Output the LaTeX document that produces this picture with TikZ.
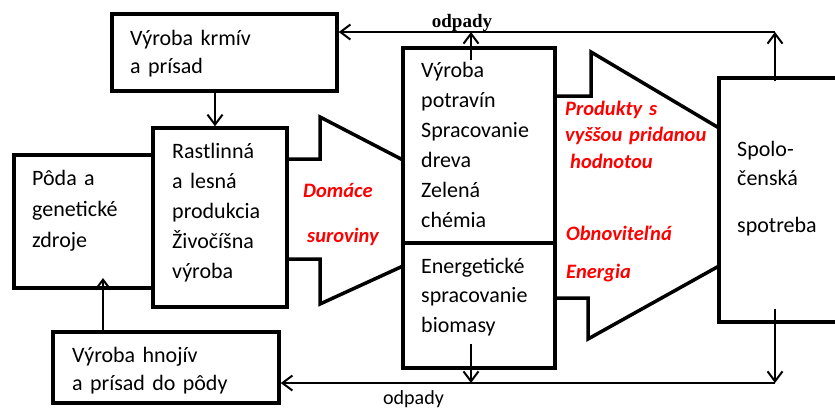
\documentclass[tikz,border=0pt]{standalone}
\usepackage{fontspec}
\setmainfont{Carlito}
\newfontfamily\serifbold{Liberation Serif}
\usetikzlibrary{arrows.meta}
\begin{document}
\begin{tikzpicture}[x=1pt,y=-1pt,
  box/.style={draw, line width=3.5pt, rectangle, inner sep=0pt},
  arr/.style={line width=2pt, -{Straight Barb[length=10pt,width=15pt]}},
  bigarrow/.style={line width=3.5pt, line join=miter},
  txt/.style={anchor=base west, inner sep=0pt, align=left, text width=#1},
  redtxt/.style={anchor=base west, inner sep=0pt, align=left, text width=#1, text=red, font=\bfseries\itshape\fontsize{20.5}{26.5}\selectfont},
]
\useasboundingbox (0,0) rectangle (835,408);
\clip (0,0) rectangle (835,408);

% boxes
\node[box, minimum width=225pt, minimum height=77pt] (krmiv) at (224.5,52.5) {};
\node[box, minimum width=134pt, minimum height=179pt] (rast) at (220,217.5) {};
\node[box, minimum width=139pt, minimum height=133pt] (poda) at (83.5,221.5) {};
\node[box, minimum width=226pt, minimum height=71pt] (hnojiv) at (166,367.5) {};
\node[box, minimum width=152pt, minimum height=195pt] (potr) at (479,145.5) {};
\node[box, minimum width=152pt, minimum height=125pt] (ener) at (479,305.5) {};
\node[box, minimum width=131pt, minimum height=244pt] (spol) at (784.5,200) {};

% big arrow shapes
\draw[bigarrow] (287,159) -- (320,159) -- (320,117) -- (403,160);
\draw[bigarrow] (287,259) -- (320,259) -- (320,304) -- (403,266);
\draw[bigarrow] (555,96) -- (591,96) -- (591,52) -- (719,128);
\draw[bigarrow] (555,298) -- (588,298) -- (588,339) -- (719,266);

% connector coordinates
\coordinate (xa) at (215,0);
\coordinate (xh) at (103,278);
\coordinate (ltop) at (775,32);
\coordinate (lbot) at (775,383);
\coordinate (optop) at (471,32);
\coordinate (opbot) at (471,383);

% connectors
\draw[arr] (krmiv.south -| xa) -- (rast.north -| xa);
\draw[arr] (hnojiv.north -| xh) -- (xh);
\draw[arr] (ltop) -- (krmiv.east |- ltop);
\draw[arr] (lbot) -- (hnojiv.east |- lbot);
\draw[arr] (potr.north -| optop) ++(0,14) -- (optop);
\draw[arr] (ener.south -| opbot) ++(0,-26) -- (opbot);
\draw[arr] (spol.north -| ltop) ++(0,5) -- (ltop);
\draw[arr] (spol.south -| lbot) ++(0,-15) -- (lbot);

% texts
\node[txt=200pt, font=\fontsize{22}{28.5}\selectfont] (tkrmiv) at (130,45) {Výroba krmív\\a prísad};
\node[txt=120pt, font=\fontsize{22}{30}\selectfont] (trast) at (172,158) {Rastlinná\\a lesná\\produkcia\\Živočíšna\\výroba};
\node[txt=115pt, font=\fontsize{22}{31}\selectfont] (tpoda) at (32,185) {Pôda a\\genetické\\zdroje};
\node[txt=200pt, font=\fontsize{22}{28}\selectfont] (thnojiv) at (72,362) {Výroba hnojív\\a prísad do pôdy};
\node[txt=130pt, font=\fontsize{22}{30}\selectfont] (tpotr) at (421,77) {Výroba\\potravín\\Spracovanie\\dreva\\Zelená\\chémia};
\node[txt=130pt, font=\fontsize{22}{29.5}\selectfont] (tener) at (421,273) {Energetické\\spracovanie\\biomasy};
\node[txt=95pt, font=\fontsize{22}{29}\selectfont] (tspol) at (737,156) {Spolo-\\čenská};
\node[txt=95pt, font=\fontsize{22}{29}\selectfont] (tspot) at (737,232) {spotreba};

\node[redtxt=80pt] (tdom) at (303,197) {Domáce};
\node[redtxt=80pt] (tsur) at (307,242) {suroviny};
\node[redtxt=150pt] (tprod) at (565,115) {Produkty s\\vyššou pridanou\\\hspace*{5pt}hodnotou};
\node[redtxt=150pt] (tobn) at (566,240) {Obnoviteľná};
\node[redtxt=150pt] (tenerg) at (566,278) {Energia};

\node[anchor=base, inner sep=0pt, font=\serifbold\bfseries\fontsize{19}{22}\selectfont] (odtop) at (462,27) {odpady};
\node[anchor=base west, inner sep=0pt, font=\fontsize{20}{22}\selectfont] (odbot) at (383,404) {odpady};
\end{tikzpicture}
\end{document}
